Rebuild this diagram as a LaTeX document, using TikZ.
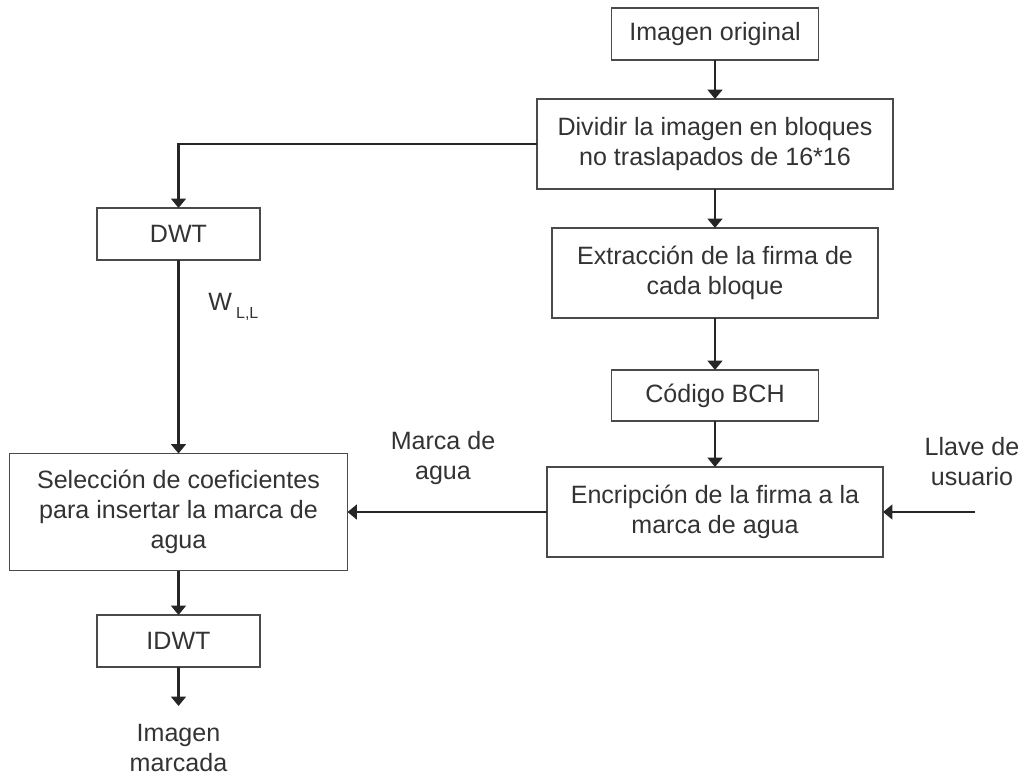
\documentclass[tikz,border=0pt]{standalone}
\usepackage{fontspec}
\setmainfont{Liberation Sans}
\usetikzlibrary{arrows.meta}
\definecolor{ink}{HTML}{333333}
\definecolor{edge}{HTML}{4A4A4A}
\begin{document}
\begin{tikzpicture}[x=0.75pt,y=0.75pt,yscale=-1,xscale=1,
    blockbox/.style={draw=edge, line width=1.2pt, fill=white, inner sep=0pt, outer sep=0pt,
        align=center, text=ink, font=\fontsize{18.8}{22.5}\selectfont},
    plainlabel/.style={inner sep=0pt, align=center, text=ink, font=\fontsize{18.8}{22.5}\selectfont},
    flow/.style={draw=black!85, line width=1.7pt, -{Triangle[width=11pt,length=7pt]}}]
        \useasboundingbox (0,0) rectangle (1024,776);
        % Blocks
        \node [blockbox, minimum width=155.25pt, minimum height=39pt] (orig) at (715,34) {Imagen original};
        \node [blockbox, minimum width=267pt, minimum height=67.5pt] (divide) at (715,144) {Dividir la imagen en bloques\\no traslapados de 16*16};
        \node [blockbox, minimum width=122.25pt, minimum height=39pt] (dwt) at (178.5,234) {DWT};
        \node [blockbox, minimum width=244.5pt, minimum height=67.5pt] (extract) at (715,273) {Extracción de la firma de\\cada bloque};
        \node [blockbox, minimum width=155.25pt, minimum height=38.25pt] (bch) at (715,395.5) {Código BCH};
        \node [blockbox, minimum width=253.5pt, minimum height=87.75pt] (select) at (178.5,512) {Selección de coeficientes\\para insertar la marca de\\agua};
        \node [blockbox, minimum width=252pt, minimum height=67.5pt] (encrypt) at (715,512) {Encripción de la firma a la\\marca de agua};
        \node [blockbox, minimum width=122.25pt, minimum height=39pt] (idwt) at (178.5,641) {IDWT};
        % Free ends
        \coordinate (key) at (975,512);
        \coordinate (out) at (178.5,706);
        % Text Node
        \node [plainlabel] (keylbl) at (972,462) {Llave de\\usuario};
        \node [plainlabel] (marklbl) at (443,458) {Marca de\\agua};
        \node [plainlabel] (outlbl) at (178.5,748) {Imagen\\marcada};
        \node [plainlabel, anchor=west] (wll) at (208,307) {W\,\raisebox{-0.55ex}{\fontsize{12}{14}\selectfont L,L}};
        % Connectors
        \draw [flow] (orig) -- (divide);
        \draw [flow] (divide.west) -| (dwt.north);
        \draw [flow] (divide) -- (extract);
        \draw [flow] (extract) -- (bch);
        \draw [flow] (bch) -- (encrypt);
        \draw [flow] (dwt) -- (select);
        \draw [flow] (key) -- (encrypt.east);
        \draw [flow] (encrypt) -- (select);
        \draw [flow] (select) -- (idwt);
        \draw [flow] (idwt.south) -- (out);
\end{tikzpicture}
\end{document}
